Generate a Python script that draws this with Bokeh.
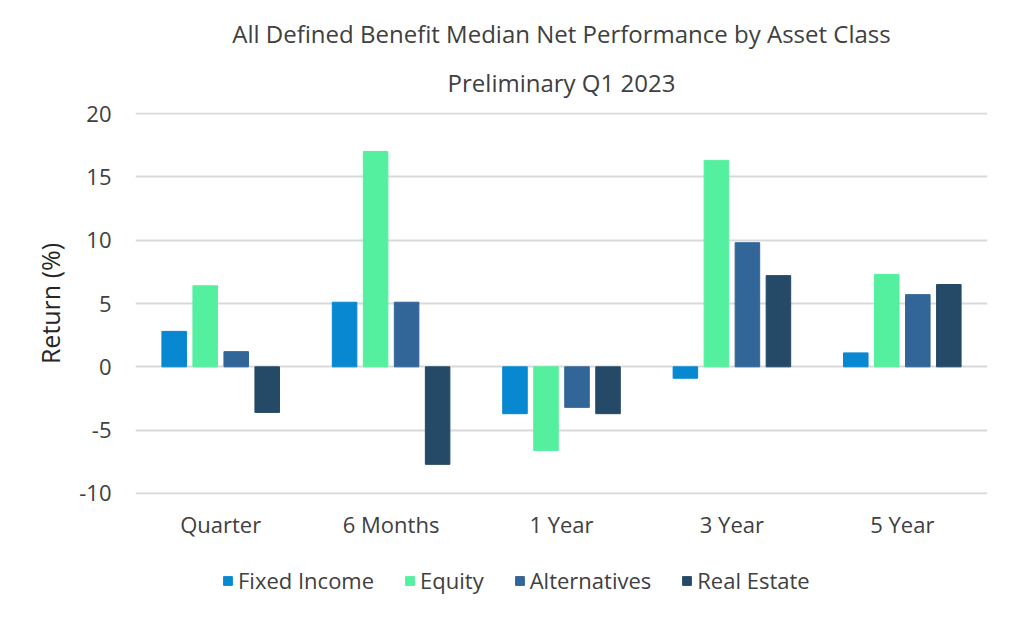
from bokeh.plotting import figure
from bokeh.models import (ColumnDataSource, FactorRange, Range1d, Legend, LegendItem, Title,
                          FixedTicker, PrintfTickFormatter)
from bokeh.layouts import column
from bokeh.transform import dodge
from bokeh.embed import file_html
from bokeh.resources import INLINE

periods = ["Quarter", "6 Months", "1 Year", "3 Year", "5 Year"]
fixed_income = [2.8, 5.1, -3.7, -0.9, 1.1]
equity = [6.4, 17.0, -6.6, 16.3, 7.3]
alternatives = [1.2, 5.1, -3.2, 9.8, 5.7]
real_estate = [-3.6, -7.7, -3.7, 7.2, 6.5]
series_names = ["Fixed Income", "Equity", "Alternatives", "Real Estate"]
colors = ["#0788D0", "#55F09F", "#326699", "#254A67"]
y_ticks = [-10, -5, 0, 5, 10, 15, 20]
title_main = "All Defined Benefit Median Net Performance by Asset Class"
title_sub = "Preliminary Q1 2023"

FONT = "Open Sans"
TXT = "#404040"

src = ColumnDataSource(dict(period=periods, fi=fixed_income, eq=equity,
                            alt=alternatives, re=real_estate))

p = figure(x_range=FactorRange(*periods), y_range=Range1d(-10.08, 20.08),
           frame_width=852, frame_height=382,
           min_border_left=135, min_border_right=20,
           min_border_top=112, min_border_bottom=45,
           output_backend="svg", toolbar_location=None, tools="")

offsets = [-0.273, -0.091, 0.091, 0.273]
cols = ["fi", "eq", "alt", "re"]
for c, off, col in zip(cols, offsets, colors):
    p.vbar(x=dodge("period", off, range=p.x_range), top=c, bottom=0,
           width=0.144, source=src, fill_color=col, line_color=col)

p.outline_line_color = None
p.background_fill_color = "white"
p.border_fill_color = "white"
p.xgrid.grid_line_color = None
p.ygrid.grid_line_color = "#D9D9D9"
p.ygrid.grid_line_width = 2
p.yaxis.ticker = FixedTicker(ticks=y_ticks)
p.yaxis.formatter = PrintfTickFormatter(format="%d")

for ax in (p.xaxis, p.yaxis):
    ax.axis_line_color = None
    ax.major_tick_line_color = None
    ax.minor_tick_line_color = None
    ax.major_label_text_font = FONT
    ax.major_label_text_color = TXT
    ax.major_label_text_font_size = "22px"

p.xaxis.major_label_standoff = 8
p.yaxis.major_label_standoff = 18
p.yaxis.axis_label = "Return (%)"
p.yaxis.axis_label_text_font = FONT
p.yaxis.axis_label_text_font_style = "normal"
p.yaxis.axis_label_text_font_size = "25px"
p.yaxis.axis_label_text_color = "#262626"
p.yaxis.axis_label_standoff = 9

sub = Title(text=title_sub, align="center", text_font=FONT, text_font_size="24px",
            text_font_style="normal", text_color=TXT, standoff=28, text_line_height=0.75)
main = Title(text=title_main, align="center", text_font=FONT, text_font_size="24px",
             text_font_style="normal", text_color=TXT, standoff=0, text_line_height=0.75)
p.add_layout(sub, "above")
p.add_layout(main, "above")

# legend strip below the chart (same series, drawn outside its visible range)
lf = figure(width=1000, height=70, x_range=FactorRange(*periods), y_range=Range1d(100, 101),
            min_border=0, x_axis_location=None, y_axis_location=None,
            output_backend="svg", toolbar_location=None, tools="")
lf.outline_line_color = None
lf.xgrid.grid_line_color = None
lf.ygrid.grid_line_color = None
leg_renderers = []
for c, off, col in zip(cols, offsets, colors):
    leg_renderers.append(lf.vbar(x=dodge("period", off, range=lf.x_range), top=c, bottom=0,
                                 width=0.144, source=src, fill_color=col, line_color=col))

legend = Legend(items=[LegendItem(label=n, renderers=[r]) for n, r in zip(series_names, leg_renderers)],
                orientation="horizontal", location=(87, 16),
                label_text_font=FONT, label_text_font_size="22px", label_text_color=TXT,
                glyph_width=11, glyph_height=11, label_standoff=5, spacing=30,
                border_line_color=None, background_fill_alpha=0)
lf.add_layout(legend, "center")

layout = column(p, lf, spacing=0)
open("out.html", "w").write(file_html(layout, INLINE))
